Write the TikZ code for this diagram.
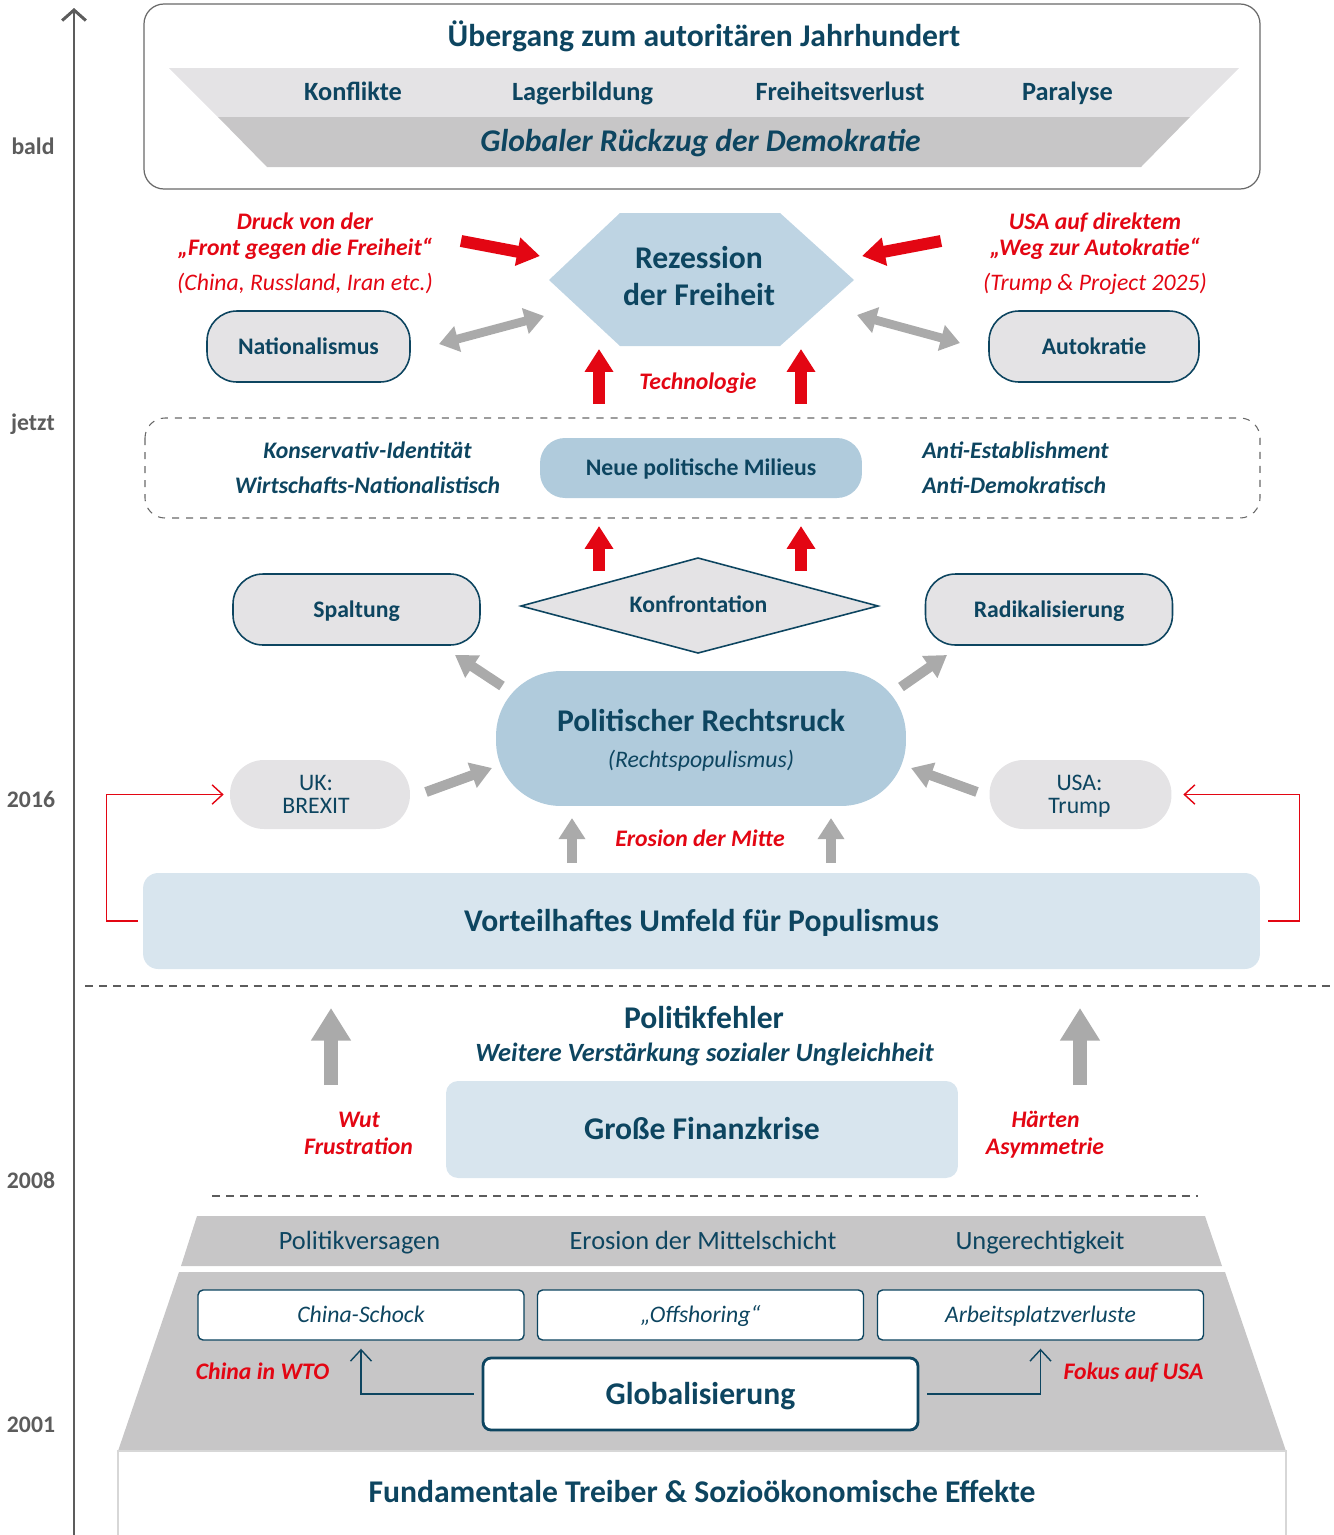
\documentclass[tikz,border=0pt]{standalone}
\usepackage{fontspec}
\setmainfont{Carlito}
\usetikzlibrary{arrows.meta}

\definecolor{dunkelblau}{RGB}{13,69,96}
\definecolor{signalrot}{RGB}{227,6,19}
\definecolor{pfeilgrau}{RGB}{170,170,170}
\definecolor{achsgrau}{RGB}{92,92,92}
\definecolor{randgrau}{RGB}{105,105,105}
\definecolor{hellgrau}{RGB}{228,227,229}
\definecolor{mittelgrau}{RGB}{199,198,199}
\definecolor{hexblau}{RGB}{190,212,227}
\definecolor{mittelblau}{RGB}{176,203,220}
\definecolor{blassblau}{RGB}{216,229,238}
\definecolor{sockelgrau}{RGB}{215,215,215}

\newcommand{\gross}{\fontsize{18}{21}\selectfont}
\newcommand{\mittel}{\fontsize{15}{18}\selectfont}
\newcommand{\klein}{\fontsize{13.5}{16}\selectfont}

\tikzset{
  txt/.style={anchor=base, inner sep=0pt, text=dunkelblau},
  kopf/.style={txt, font=\gross\bfseries},
  kopfkursiv/.style={txt, font=\gross\bfseries\itshape},
  band/.style={txt, font=\mittel\bfseries},
  bandschlicht/.style={txt, font=\mittel},
  bandkursiv/.style={txt, font=\mittel\bfseries\itshape},
  fett/.style={txt, font=\klein\bfseries},
  fettkursiv/.style={txt, font=\klein\bfseries\itshape},
  schlicht/.style={txt, font=\klein},
  kursiv/.style={txt, font=\klein\itshape},
  rot/.style={text=signalrot},
  jahr/.style={txt, font=\klein\bfseries, text=achsgrau},
  kleinbox/.style={inner sep=0pt, text=dunkelblau, font=\klein\bfseries, text height=11pt, text depth=2.3pt},
  grossbox/.style={inner sep=0pt, text=dunkelblau, font=\gross\bfseries, text height=14pt, text depth=2.4pt},
  kapsel/.style={kleinbox, draw=dunkelblau, line width=0.9pt, fill=hellgrau, rounded corners=0.6cm, minimum height=1.42cm},
  milieu/.style={kleinbox, fill=mittelblau, rounded corners=0.5cm, minimum width=6.44cm, minimum height=1.2cm},
  landbox/.style={fill=hellgrau, rounded corners=0.68cm, minimum height=1.38cm},
  blassbox/.style={grossbox, fill=blassblau, rounded corners=0.3cm},
  weissbox/.style={kleinbox, font=\klein\itshape, fill=white, draw=dunkelblau, line width=0.8pt, rounded corners=0.1cm, minimum width=6.52cm, minimum height=1cm},
  globbox/.style={grossbox, fill=white, draw=dunkelblau, line width=1.6pt, rounded corners=0.16cm, minimum width=8.7cm, minimum height=1.44cm},
  rotpfeil/.style={draw=signalrot, line width=6.8pt, -{Triangle[length=13pt,width=15.5pt]}},
  graupfeil/.style={draw=pfeilgrau, line width=5.7pt, -{Triangle[length=12pt,width=14.5pt]}},
  grauwechsel/.style={draw=pfeilgrau, line width=5pt, {Triangle[length=11pt,width=14.5pt]}-{Triangle[length=11pt,width=14.5pt]}},
  graugross/.style={draw=pfeilgrau, line width=8pt, -{Triangle[length=18.5pt,width=21.5pt]}},
  rueckpfeil/.style={draw=signalrot, line width=0.8pt, -{Straight Barb[length=6pt,width=11pt]}},
  globpfeil/.style={draw=dunkelblau, line width=0.8pt, -{Straight Barb[length=6.5pt,width=12pt]}, shorten <=0.16cm, shorten >=0.16cm},
  zeitachse/.style={draw=achsgrau, line width=1.7pt, -{Straight Barb[length=6pt,width=13.5pt]}},
  trennlinie/.style={draw=achsgrau, line width=1.2pt, dash pattern=on 4.5pt off 3.5pt},
  rahmen/.style={draw=randgrau, line width=0.7pt, rounded corners=0.4cm},
  strichrahmen/.style={draw=randgrau, line width=0.6pt, dash pattern=on 4pt off 4pt, rounded corners=0.4cm}
}

\begin{document}
\begin{tikzpicture}[x=0.02cm,y=-0.02cm]
\useasboundingbox (0,0) rectangle (1333,1535);

\draw[rahmen] (144,4) rectangle (1260,189);
\fill[hellgrau] (169,68) -- (1239,68) -- (1190,117) -- (218,117) -- cycle;
\fill[mittelgrau] (218,117) -- (1190,117) -- (1141,167) -- (267,167) -- cycle;
\node[kopf] (uebergang) at (704,46) {Übergang zum autoritären Jahrhundert};
\node[band] (konflikte) at (353,100) {Konflikte};
\node[band] (lagerbildung) at (582.5,100) {Lagerbildung};
\node[band] (freiheitsverlust) at (840,100) {Freiheitsverlust};
\node[band] (paralyse) at (1067.5,100) {Paralyse};
\node[kopfkursiv] (rueckzug) at (700.5,151) {Globaler Rückzug der Demokratie};

\coordinate (achseunten) at (74,1535);
\coordinate (achseoben) at (74,8);
\draw[zeitachse] (achseunten) -- (achseoben);
\node[jahr] (bald) at (33,154) {bald};
\node[jahr] (jetzt) at (33,430) {jetzt};
\node[jahr] (j2016) at (31,807) {2016};
\node[jahr] (j2008) at (31,1188) {2008};
\node[jahr] (j2001) at (31,1432) {2001};

\fill[hexblau] (549,280) -- (620,213) -- (780,213) -- (854,280) -- (780,346) -- (620,346) -- cycle;
\node[kopf] (rezession) at (699,268.5) {Rezession};
\node[kopf] (freiheit) at (699,305) {der Freiheit};
\node[fettkursiv, rot] (druck) at (305,229) {Druck von der};
\node[fettkursiv, rot] (front) at (305,255) {„Front gegen die Freiheit“};
\node[kursiv, rot] (achse) at (305,290) {(China, Russland, Iran etc.)};
\node[fettkursiv, rot] (usadirekt) at (1095,229) {USA auf direktem};
\node[fettkursiv, rot] (weg) at (1095,255) {„Weg zur Autokratie“};
\node[kursiv, rot] (trump) at (1095,290) {(Trump \& Project 2025)};
\node[kapsel, minimum width=4.06cm] (nationalismus) at (308.5,346.5) {Nationalismus};
\node[kapsel, minimum width=4.2cm] (autokratie) at (1094,346.5) {Autokratie};
\coordinate (druckA) at (461,241);
\coordinate (druckB) at (540,256);
\coordinate (usaA) at (941,241);
\coordinate (usaB) at (862,256);
\draw[rotpfeil] (druckA) -- (druckB);
\draw[rotpfeil] (usaA) -- (usaB);
\coordinate (natA) at (439,344);
\coordinate (natB) at (544,316);
\coordinate (autA) at (857,315);
\coordinate (autB) at (960,343);
\draw[grauwechsel] (natA) -- (natB);
\draw[grauwechsel] (autA) -- (autB);
\coordinate (techLA) at (599,404);
\coordinate (techLB) at (599,349);
\coordinate (techRA) at (801,404);
\coordinate (techRB) at (801,349);
\draw[rotpfeil] (techLA) -- (techLB);
\draw[rotpfeil] (techRA) -- (techRB);
\node[fettkursiv, rot] (technologie) at (698,389) {Technologie};

\draw[strichrahmen] (145,418) rectangle (1260,518);
\node[fettkursiv] (konservativ) at (367.5,458) {Konservativ-Identität};
\node[fettkursiv] (wirtschaft) at (367.5,493) {Wirtschafts-Nationalistisch};
\node[fettkursiv, anchor=base west] (antiest) at (922,458) {Anti-Establishment};
\node[fettkursiv, anchor=base west] (antidem) at (922,493) {Anti-Demokratisch};
\node[milieu] (milieus) at (701,468) {Neue politische Milieus};

\coordinate (konfLA) at (599,571);
\coordinate (konfLB) at (599,526);
\coordinate (konfRA) at (801,571);
\coordinate (konfRB) at (801,526);
\draw[rotpfeil] (konfLA) -- (konfLB);
\draw[rotpfeil] (konfRA) -- (konfRB);
\node[kapsel, minimum width=4.94cm] (spaltung) at (356.5,609.5) {Spaltung};
\filldraw[fill=hellgrau, draw=dunkelblau, line width=0.9pt] (521,606) -- (698,558) -- (878,606) -- (698,653) -- cycle;
\node[fett] (konfrontation) at (698.5,612.5) {Konfrontation};
\node[kapsel, minimum width=4.94cm] (radikal) at (1049,609.5) {Radikalisierung};

\node[fill=mittelblau, rounded corners=1.3cm, minimum width=8.2cm, minimum height=2.7cm] (rechtsruck) at (701,738.5) {};
\node[kopf] (rechtsrucktitel) at (701,731) {Politischer Rechtsruck};
\node[kursiv] (populismus) at (701,767) {(Rechtspopulismus)};
\coordinate (spA) at (502,686);
\coordinate (spB) at (455,655);
\coordinate (raA) at (901,687);
\coordinate (raB) at (947,655);
\draw[graupfeil] (spA) -- (spB);
\draw[graupfeil] (raA) -- (raB);
\node[landbox, minimum width=3.6cm] (uk) at (320,794.5) {};
\node[schlicht] (ukname) at (316,790) {UK:};
\node[schlicht] (brexit) at (316,813) {BREXIT};
\node[landbox, minimum width=3.64cm] (usa) at (1080.5,794.5) {};
\node[schlicht] (usaname) at (1079.5,790) {USA:};
\node[schlicht] (trumpname) at (1079.5,813) {Trump};
\coordinate (ukA) at (426,792);
\coordinate (ukB) at (492,768);
\coordinate (usA) at (977,792);
\coordinate (usB) at (911,768);
\draw[graupfeil] (ukA) -- (ukB);
\draw[graupfeil] (usA) -- (usB);
\coordinate (mitteLA) at (572,863);
\coordinate (mitteLB) at (572,818);
\coordinate (mitteRA) at (831,863);
\coordinate (mitteRB) at (831,818);
\draw[graupfeil] (mitteLA) -- (mitteLB);
\draw[graupfeil] (mitteRA) -- (mitteRB);
\node[fettkursiv, rot] (erosion) at (700,846) {Erosion der Mitte};
\node[blassbox, minimum width=22.34cm, minimum height=1.92cm] (vorteil) at (701.5,921) {Vorteilhaftes Umfeld für Populismus};
\draw[rueckpfeil, shorten <=0.1cm, shorten >=0.12cm] (vorteil.west) -- ++(-36,0) |- (uk.west);
\draw[rueckpfeil, shorten <=0.16cm, shorten >=0.23cm] (vorteil.east) -- ++(39,0) |- (usa.east);

\draw[trennlinie] (85,986) -- (1333,986);
\node[kopf] (politikfehler) at (704,1028) {Politikfehler};
\node[bandkursiv] (verstaerkung) at (704.5,1061) {Weitere Verstärkung sozialer Ungleichheit};
\coordinate (fehlerLA) at (331,1085);
\coordinate (fehlerLB) at (331,1008);
\coordinate (fehlerRA) at (1080,1085);
\coordinate (fehlerRB) at (1080,1008);
\draw[graugross] (fehlerLA) -- (fehlerLB);
\draw[graugross] (fehlerRA) -- (fehlerRB);
\node[blassbox, minimum width=10.24cm, minimum height=1.94cm, rounded corners=0.24cm] (finanzkrise) at (702,1129.5) {Große Finanzkrise};
\node[fettkursiv, rot] (wut) at (359,1127) {Wut};
\node[fettkursiv, rot] (frustration) at (358.5,1154) {Frustration};
\node[fettkursiv, rot] (haerten) at (1045.5,1127) {Härten};
\node[fettkursiv, rot] (asymmetrie) at (1045,1154) {Asymmetrie};
\draw[trennlinie] (212,1196) -- (1198,1196);

\fill[mittelgrau] (197,1216) -- (1205,1216) -- (1222,1266) -- (181,1266) -- cycle;
\node[bandschlicht] (politikversagen) at (359.5,1249) {Politikversagen};
\node[bandschlicht] (mittelschicht) at (703,1249) {Erosion der Mittelschicht};
\node[bandschlicht] (ungerechtigkeit) at (1040,1249) {Ungerechtigkeit};
\fill[mittelgrau] (179,1272) -- (1225,1272) -- (1286,1451) -- (118,1451) -- cycle;
\fill[white] (118,1451) rectangle (1286,1535);
\draw[sockelgrau, line width=1.2pt] (118,1535) -- (118,1451) -- (1286,1451) -- (1286,1535);
\node[weissbox] (chinaschock) at (361,1315) {China-Schock};
\node[weissbox] (offshoring) at (700.5,1315) {„Offshoring“};
\node[weissbox] (arbeitsplatz) at (1040.5,1315) {Arbeitsplatzverluste};
\node[globbox] (globalisierung) at (700.5,1394) {Globalisierung};
\draw[globpfeil] (globalisierung.west) -| (chinaschock.south);
\draw[globpfeil] (globalisierung.east) -| (arbeitsplatz.south);
\node[fettkursiv, rot] (wto) at (262.5,1379) {China in WTO};
\node[fettkursiv, rot] (fokus) at (1133.5,1379) {Fokus auf USA};
\node[kopf] (fundamental) at (702,1502) {Fundamentale Treiber \& Sozioökonomische Effekte};
\end{tikzpicture}
\end{document}
